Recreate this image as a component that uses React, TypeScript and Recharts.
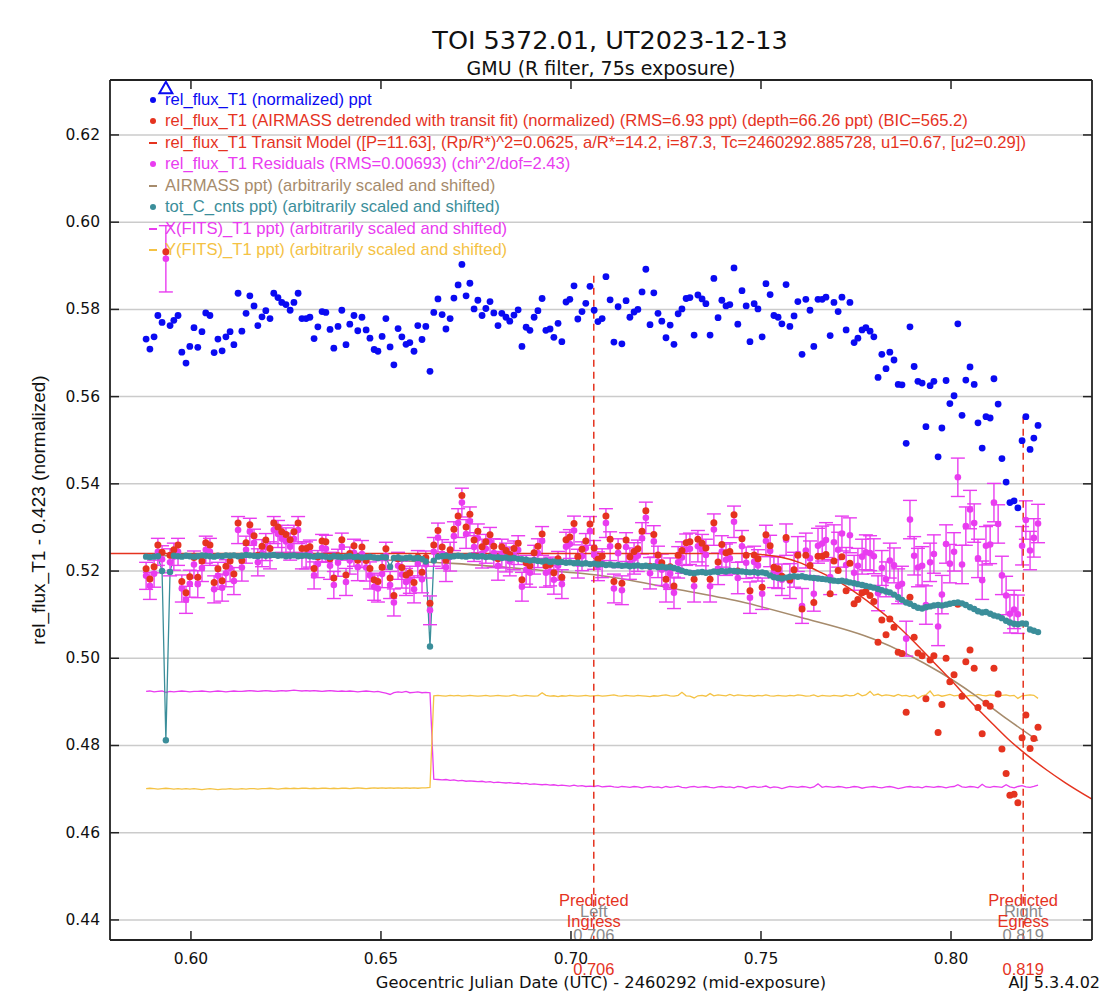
import {
  CartesianGrid,
  ComposedChart,
  ErrorBar,
  Legend,
  Line,
  ReferenceLine,
  Scatter,
  XAxis,
  YAxis,
} from "recharts";

// mid-exposure times, JD - 2460292
const T = [
  0.5882, 0.5892, 0.5903, 0.5913, 0.5924, 0.5934, 0.5945, 0.5955, 0.5966, 0.5976,
  0.5987, 0.5997, 0.6008, 0.6018, 0.6029, 0.6039, 0.605, 0.6061, 0.6071, 0.6082,
  0.6092, 0.6103, 0.6113, 0.6124, 0.6134, 0.6145, 0.6155, 0.6166, 0.6176, 0.6187,
  0.6197, 0.6208, 0.6218, 0.6229, 0.6239, 0.625, 0.6261, 0.6271, 0.6282, 0.6292,
  0.6303, 0.6313, 0.6324, 0.6334, 0.6345, 0.6355, 0.6366, 0.6376, 0.6387, 0.6397,
  0.6408, 0.6418, 0.6429, 0.6439, 0.645, 0.6461, 0.6471, 0.6482, 0.6492, 0.6503,
  0.6513, 0.6524, 0.6534, 0.6545, 0.6555, 0.6566, 0.6576, 0.6587, 0.6597, 0.6608,
  0.6618, 0.6629, 0.6639, 0.665, 0.6661, 0.6671, 0.6682, 0.6692, 0.6703, 0.6713,
  0.6724, 0.6734, 0.6745, 0.6755, 0.6766, 0.6776, 0.6787, 0.6797, 0.6808, 0.6818,
  0.6829, 0.6839, 0.685, 0.6861, 0.6871, 0.6882, 0.6892, 0.6903, 0.6913, 0.6924,
  0.6934, 0.6945, 0.6955, 0.6966, 0.6976, 0.6987, 0.6997, 0.7008, 0.7018, 0.7029,
  0.7039, 0.705, 0.7061, 0.7071, 0.7082, 0.7092, 0.7103, 0.7113, 0.7124, 0.7134,
  0.7145, 0.7155, 0.7166, 0.7176, 0.7187, 0.7197, 0.7208, 0.7218, 0.7229, 0.7239,
  0.725, 0.7261, 0.7271, 0.7282, 0.7292, 0.7303, 0.7313, 0.7324, 0.7334, 0.7345,
  0.7355, 0.7366, 0.7376, 0.7387, 0.7397, 0.7408, 0.7418, 0.7429, 0.7439, 0.745,
  0.7461, 0.7471, 0.7482, 0.7492, 0.7503, 0.7513, 0.7524, 0.7534, 0.7545, 0.7555,
  0.7566, 0.7576, 0.7587, 0.7597, 0.7608, 0.7618, 0.7629, 0.7639, 0.765, 0.7661,
  0.7671, 0.7682, 0.7692, 0.7703, 0.7713, 0.7724, 0.7734, 0.7745, 0.7755, 0.7766,
  0.7776, 0.7787, 0.7797, 0.7808, 0.7818, 0.7829, 0.7839, 0.785, 0.7861, 0.7871,
  0.7882, 0.7892, 0.7903, 0.7913, 0.7924, 0.7934, 0.7945, 0.7955, 0.7966, 0.7976,
  0.7987, 0.7997, 0.8008, 0.8018, 0.8029, 0.8039, 0.805, 0.8061, 0.8071, 0.8082,
  0.8092, 0.8103, 0.8113, 0.8124, 0.8134, 0.8145, 0.8155, 0.8166, 0.8176, 0.8187,
  0.8197, 0.8208, 0.8218, 0.8229,
];

// rel_flux_T1 (normalized), null = off the top of the plot
const BLUE = [
  0.5732, 0.5709, 0.5737, 0.5786, 0.577, null, 0.5763, 0.5775, 0.5786, 0.5702,
  0.5677, 0.5715, 0.5758, 0.5713, 0.5749, 0.5792, 0.5786, 0.5701, 0.5732, 0.5705,
  0.5737, 0.5749, 0.5719, 0.5837, 0.575, 0.5791, 0.5831, 0.5808, 0.5763, 0.5783,
  0.5797, 0.5779, 0.5837, 0.5827, 0.5816, 0.5811, 0.5798, 0.5816, 0.5837, 0.5779,
  0.5779, 0.5782, 0.5733, 0.576, 0.5795, 0.5793, 0.5754, 0.5711, 0.5761, 0.5798,
  0.5719, 0.5766, 0.5786, 0.5751, 0.5782, 0.5753, 0.5734, 0.5708, 0.5704, 0.5738,
  0.5779, 0.5714, 0.5673, 0.5756, 0.5737, 0.572, 0.5724, 0.5704, 0.5763, 0.5731,
  0.5761, 0.5658, 0.5793, 0.5824, 0.5788, 0.5755, 0.5779, 0.5826, 0.5856, 0.5903,
  0.5831, 0.586, 0.5801, 0.5821, 0.5786, 0.5802, 0.5818, 0.5792, 0.5763, 0.5791,
  0.5782, 0.5773, 0.5787, 0.5799, 0.5715, 0.5759, 0.5752, 0.5782, 0.5797, 0.5825,
  0.5752, 0.5755, 0.5736, 0.5768, 0.5726, 0.5817, 0.5823, 0.5854, 0.5778, 0.5795,
  0.5814, 0.5853, 0.5798, 0.5772, 0.5779, 0.5875, 0.5822, 0.5725, 0.5806, 0.5721,
  0.582, 0.5782, 0.5794, 0.58, 0.584, 0.5892, 0.5765, 0.5838, 0.5791, 0.5773,
  0.5735, 0.5764, 0.572, 0.579, 0.5801, 0.5825, 0.5827, 0.5741, 0.5833, 0.5824,
  0.5813, 0.5741, 0.5871, 0.5781, 0.5821, 0.5808, 0.5811, 0.5895, 0.5766, 0.5843,
  0.5808, 0.5726, 0.5813, 0.5801, 0.5737, 0.5859, 0.5834, 0.5786, 0.5782, 0.5767,
  0.5857, 0.5761, 0.5785, 0.5818, 0.5697, 0.5823, 0.5798, 0.5715, 0.5823, 0.5823,
  0.5828, 0.574, 0.5816, 0.5795, 0.5828, 0.5753, 0.5816, 0.5724, 0.5734, 0.5753,
  0.5758, 0.575, 0.5737, 0.5644, 0.5697, 0.5664, 0.5702, 0.5684, 0.5628, 0.5627,
  0.5493, 0.576, 0.5669, 0.5635, 0.5631, 0.5531, 0.5625, 0.5635, 0.5462, 0.5528,
  0.5637, 0.5584, 0.5602, 0.5767, 0.5557, 0.5638, 0.5668, 0.5628, 0.554, 0.5482,
  0.5554, 0.5551, 0.5641, 0.5583, 0.5458, 0.5404, 0.5357, 0.5361, 0.5345, 0.5499,
  0.5554, 0.5479, 0.5505, 0.5534,
];

// rel_flux_T1 AIRMASS detrended
const RED = [
  0.5205, 0.5182, 0.521, 0.526, 0.5243, 0.5932, 0.5236, 0.5249, 0.526, 0.5176,
  0.515, 0.5187, 0.5231, 0.5186, 0.5223, 0.5265, 0.526, 0.5174, 0.5205, 0.5178,
  0.5211, 0.5223, 0.5193, 0.531, 0.5224, 0.5265, 0.5306, 0.5281, 0.5236, 0.5257,
  0.5271, 0.5252, 0.531, 0.5301, 0.529, 0.5284, 0.5272, 0.529, 0.531, 0.5252,
  0.5252, 0.5256, 0.5206, 0.5232, 0.5269, 0.5267, 0.5228, 0.5184, 0.5235, 0.5272,
  0.5191, 0.524, 0.5258, 0.5225, 0.5255, 0.5224, 0.5206, 0.518, 0.5176, 0.5209,
  0.5251, 0.5184, 0.5144, 0.5228, 0.5208, 0.5191, 0.5196, 0.5174, 0.5232, 0.5197,
  0.5231, 0.5126, 0.526, 0.5293, 0.5255, 0.5225, 0.5249, 0.5296, 0.5326, 0.5373,
  0.5301, 0.533, 0.5271, 0.5291, 0.5256, 0.5267, 0.5283, 0.5257, 0.5228, 0.5256,
  0.5247, 0.5238, 0.5252, 0.5264, 0.518, 0.5219, 0.5212, 0.5242, 0.5257, 0.5285,
  0.5212, 0.5215, 0.5196, 0.5228, 0.5186, 0.5272, 0.5278, 0.5309, 0.5233, 0.525,
  0.5269, 0.5308, 0.5253, 0.5227, 0.5234, 0.5326, 0.5273, 0.5176, 0.5257, 0.5172,
  0.5271, 0.5233, 0.5245, 0.5251, 0.5291, 0.5338, 0.5211, 0.5284, 0.5237, 0.5219,
  0.5181, 0.521, 0.5166, 0.5236, 0.5247, 0.5265, 0.5267, 0.5181, 0.5273, 0.5264,
  0.5253, 0.5181, 0.5311, 0.5221, 0.5261, 0.5242, 0.5245, 0.5329, 0.52, 0.5274,
  0.5236, 0.5155, 0.5237, 0.5228, 0.5163, 0.5283, 0.5258, 0.5209, 0.5205, 0.5188,
  0.5277, 0.518, 0.5203, 0.5236, 0.5113, 0.5236, 0.5213, 0.5128, 0.5234, 0.5234,
  0.5238, 0.5148, 0.5223, 0.5201, 0.5233, 0.5155, 0.5218, 0.5125, 0.5135, 0.515,
  0.5153, 0.5144, 0.513, 0.5037, 0.5088, 0.5054, 0.509, 0.5071, 0.5014, 0.5011,
  0.4876, 0.514, 0.5048, 0.5012, 0.5006, 0.4907, 0.4996, 0.5006, 0.483, 0.4894,
  0.5, 0.4946, 0.4962, 0.5124, 0.4913, 0.4992, 0.5019, 0.4977, 0.4887, 0.4827,
  0.4897, 0.489, 0.4977, 0.4918, 0.4792, 0.4736, 0.4686, 0.4688, 0.4669, 0.4818,
  0.487, 0.4793, 0.4816, 0.4842,
];

// residuals (shifted) and their error bars
const RESID = [
  0.5189, 0.5166, 0.5194, 0.5244, 0.5227, 0.5916, 0.522, 0.5233, 0.5244, 0.516,
  0.5134, 0.5171, 0.5215, 0.517, 0.5207, 0.5249, 0.5244, 0.5158, 0.5189, 0.5162,
  0.5195, 0.5207, 0.5177, 0.5294, 0.5208, 0.5249, 0.529, 0.5265, 0.522, 0.5241,
  0.5255, 0.5236, 0.5294, 0.5285, 0.5274, 0.5268, 0.5256, 0.5274, 0.5294, 0.5236,
  0.5236, 0.524, 0.519, 0.5216, 0.5253, 0.5251, 0.5212, 0.5168, 0.5219, 0.5256,
  0.5175, 0.5224, 0.5242, 0.5209, 0.5239, 0.5208, 0.519, 0.5164, 0.516, 0.5193,
  0.5235, 0.5168, 0.5128, 0.5212, 0.5192, 0.5175, 0.518, 0.5158, 0.5216, 0.5181,
  0.5215, 0.511, 0.5244, 0.5277, 0.5239, 0.5209, 0.5233, 0.528, 0.531, 0.5357,
  0.5285, 0.5314, 0.5255, 0.5275, 0.524, 0.5251, 0.5267, 0.5241, 0.5212, 0.524,
  0.5231, 0.5222, 0.5236, 0.5248, 0.5164, 0.5203, 0.5196, 0.5226, 0.5241, 0.5269,
  0.5196, 0.5199, 0.518, 0.5212, 0.517, 0.5256, 0.5262, 0.5293, 0.5217, 0.5234,
  0.5253, 0.5292, 0.5237, 0.5211, 0.5218, 0.531, 0.5257, 0.516, 0.5241, 0.5156,
  0.5255, 0.5217, 0.5229, 0.5235, 0.5275, 0.5322, 0.5195, 0.5268, 0.5221, 0.5203,
  0.5165, 0.5194, 0.515, 0.522, 0.5231, 0.5249, 0.5251, 0.5165, 0.5257, 0.5248,
  0.5237, 0.5165, 0.5295, 0.5205, 0.5245, 0.5226, 0.5229, 0.5313, 0.5184, 0.5257,
  0.5219, 0.5139, 0.5221, 0.5213, 0.5148, 0.5269, 0.5246, 0.5198, 0.5196, 0.518,
  0.5272, 0.5177, 0.5203, 0.5239, 0.512, 0.5247, 0.5229, 0.5148, 0.5258, 0.5263,
  0.5271, 0.5186, 0.5266, 0.5249, 0.5286, 0.5214, 0.5282, 0.5196, 0.5212, 0.5233,
  0.5243, 0.5241, 0.5234, 0.5149, 0.5207, 0.5181, 0.5224, 0.5213, 0.5165, 0.5171,
  0.5045, 0.5318, 0.5235, 0.5208, 0.5212, 0.5122, 0.522, 0.5239, 0.5073, 0.5146,
  0.5262, 0.5217, 0.5244, 0.5415, 0.5215, 0.5303, 0.5341, 0.531, 0.5229, 0.5179,
  0.5258, 0.5261, 0.5357, 0.5308, 0.519, 0.5144, 0.5102, 0.5112, 0.5101, 0.5258,
  0.5317, 0.5247, 0.5276, 0.5309,
];

const RESID_ERR = [
  0.0031, 0.0031, 0.0031, 0.0031, 0.0031, 0.0076, 0.0031, 0.0031, 0.0031, 0.0031,
  0.0031, 0.0031, 0.0031, 0.0031, 0.0031, 0.0031, 0.0031, 0.0031, 0.0031, 0.0031,
  0.0031, 0.0031, 0.0031, 0.0031, 0.0031, 0.0031, 0.0031, 0.0031, 0.0031, 0.0031,
  0.0031, 0.0031, 0.0031, 0.0031, 0.0031, 0.0031, 0.0031, 0.0031, 0.0031, 0.0031,
  0.0031, 0.0031, 0.0031, 0.0031, 0.0031, 0.0031, 0.0031, 0.0031, 0.0031, 0.0031,
  0.0031, 0.0031, 0.0031, 0.0031, 0.0031, 0.0031, 0.0031, 0.0031, 0.0031, 0.0031,
  0.0031, 0.0031, 0.0031, 0.0031, 0.0031, 0.0031, 0.0031, 0.0031, 0.0031, 0.0031,
  0.0031, 0.0033, 0.0033, 0.0033, 0.0033, 0.0033, 0.0033, 0.0033, 0.0033, 0.0033,
  0.0033, 0.0033, 0.0033, 0.0033, 0.0033, 0.0033, 0.0033, 0.0033, 0.0033, 0.0033,
  0.0033, 0.0033, 0.0033, 0.0033, 0.0033, 0.0033, 0.0033, 0.0033, 0.0033, 0.0033,
  0.0033, 0.0033, 0.0033, 0.0033, 0.0033, 0.0033, 0.0033, 0.0033, 0.0033, 0.0033,
  0.0033, 0.0033, 0.0033, 0.0033, 0.0033, 0.0033, 0.0033, 0.0033, 0.0033, 0.0033,
  0.0033, 0.0036, 0.0036, 0.0036, 0.0036, 0.0036, 0.0036, 0.0036, 0.0036, 0.0036,
  0.0036, 0.0036, 0.0036, 0.0036, 0.0036, 0.0036, 0.0036, 0.0036, 0.0036, 0.0036,
  0.0036, 0.0036, 0.0036, 0.0036, 0.0036, 0.0036, 0.0036, 0.0036, 0.0036, 0.0036,
  0.0036, 0.0036, 0.0036, 0.0036, 0.0036, 0.0036, 0.0036, 0.0036, 0.0036, 0.0036,
  0.0036, 0.004, 0.004, 0.004, 0.004, 0.004, 0.004, 0.004, 0.004, 0.004,
  0.004, 0.004, 0.004, 0.004, 0.004, 0.004, 0.004, 0.004, 0.004, 0.004,
  0.004, 0.004, 0.004, 0.004, 0.004, 0.004, 0.004, 0.004, 0.004, 0.004,
  0.004, 0.0044, 0.0044, 0.0044, 0.0044, 0.0044, 0.0044, 0.0044, 0.0044, 0.0044,
  0.0044, 0.0044, 0.0044, 0.0044, 0.0044, 0.0044, 0.0044, 0.0044, 0.0044, 0.0044,
  0.0044, 0.0044, 0.0044, 0.0044, 0.0044, 0.0044, 0.0044, 0.0044, 0.0044, 0.0044,
  0.0044, 0.0044, 0.0044, 0.0044,
];

// tot_C_cnts (scaled and shifted)
const TOT_C = [
  0.5233, 0.5232, 0.5233, 0.5234, 0.52, 0.4812, 0.5198, 0.5235, 0.5234, 0.5233,
  0.5235, 0.5234, 0.5233, 0.5234, 0.5236, 0.5235, 0.5234, 0.5233, 0.5235, 0.5234,
  0.5236, 0.5235, 0.5236, 0.5234, 0.5235, 0.5237, 0.5236, 0.5235, 0.5234, 0.5236,
  0.5235, 0.5236, 0.5237, 0.5235, 0.5236, 0.5234, 0.5235, 0.5236, 0.5234, 0.5235,
  0.5236, 0.5234, 0.5233, 0.5235, 0.5234, 0.5233, 0.5232, 0.5234, 0.5233, 0.5232,
  0.5233, 0.5234, 0.5232, 0.5233, 0.5231, 0.5232, 0.5233, 0.5231, 0.523, 0.5232,
  0.5231, 0.521, 0.523, 0.5231, 0.5229, 0.523, 0.5231, 0.5229, 0.523, 0.5228,
  0.5222, 0.5027, 0.5224, 0.5233, 0.5234, 0.5235, 0.5233, 0.5234, 0.5235, 0.5234,
  0.5233, 0.5235, 0.5234, 0.5233, 0.5234, 0.5232, 0.5233, 0.5231, 0.5232, 0.523,
  0.5231, 0.5229, 0.523, 0.5228, 0.5227, 0.5226, 0.5224, 0.5225, 0.5223, 0.5222,
  0.5224, 0.5221, 0.5222, 0.522, 0.5221, 0.5219, 0.522, 0.5218, 0.5219, 0.5217,
  0.5218, 0.5216, 0.5217, 0.5215, 0.5216, 0.5214, 0.5215, 0.5213, 0.5214, 0.5212,
  0.5213, 0.5211, 0.5212, 0.5213, 0.5211, 0.5212, 0.521, 0.5211, 0.5209, 0.521,
  0.5208, 0.5209, 0.5207, 0.5204, 0.5201, 0.5198, 0.5196, 0.5195, 0.5197, 0.5198,
  0.5196, 0.5197, 0.5199, 0.5198, 0.52, 0.5199, 0.5201, 0.52, 0.5199, 0.5199,
  0.5198, 0.5197, 0.5198, 0.5196, 0.5197, 0.5195, 0.519, 0.5186, 0.5184, 0.5183,
  0.5185, 0.5187, 0.5188, 0.5187, 0.5188, 0.5186, 0.5185, 0.5184, 0.5183, 0.5182,
  0.5181, 0.5179, 0.5178, 0.5177, 0.5178, 0.5176, 0.5174, 0.5172, 0.517, 0.5168,
  0.5166, 0.5164, 0.5162, 0.5159, 0.5156, 0.5153, 0.5151, 0.5146, 0.514, 0.5134,
  0.5128, 0.5125, 0.512, 0.5116, 0.5114, 0.5117, 0.5119, 0.5121, 0.5122, 0.5121,
  0.5123, 0.5125, 0.5127, 0.5128, 0.5126, 0.5122, 0.5117, 0.5113, 0.5108, 0.5105,
  0.5106, 0.5102, 0.5098, 0.5096, 0.5092, 0.5086, 0.5082, 0.5079, 0.5078, 0.508,
  0.5079, 0.5066, 0.5063, 0.506,
];

// X(FITS)_T1 (scaled and shifted)
const X_FITS = [
  0.4924, 0.4925, 0.4923, 0.4924, 0.4925, 0.4922, 0.4924, 0.4923, 0.4924, 0.4925,
  0.4924, 0.4923, 0.4924, 0.4924, 0.4925, 0.4924, 0.4923, 0.4924, 0.4925, 0.4924,
  0.4923, 0.4924, 0.4925, 0.4924, 0.4924, 0.4925, 0.4926, 0.4925, 0.4924, 0.4925,
  0.4926, 0.4925, 0.4924, 0.4925, 0.4926, 0.4925, 0.4926, 0.4927, 0.4926, 0.4925,
  0.4926, 0.4925, 0.4926, 0.4925, 0.4924, 0.4925, 0.4926, 0.4925, 0.4924, 0.4925,
  0.4924, 0.4925, 0.4924, 0.4923, 0.4924, 0.4925, 0.4924, 0.4923, 0.4924, 0.4922,
  0.492, 0.4917, 0.4921, 0.4923, 0.4922, 0.4924, 0.4921, 0.4922, 0.4923, 0.4921,
  0.4922, 0.4921, 0.4723, 0.4722, 0.4721, 0.4722, 0.472, 0.4721, 0.4719, 0.472,
  0.4718, 0.4719, 0.4718, 0.4717, 0.4718, 0.4716, 0.4717, 0.4715, 0.4716, 0.4715,
  0.4714, 0.4715, 0.4713, 0.4714, 0.4712, 0.4713, 0.4711, 0.4712, 0.4711, 0.471,
  0.4711, 0.4709, 0.471, 0.4708, 0.4709, 0.4708, 0.4707, 0.4709, 0.4707, 0.4708,
  0.4706, 0.4707, 0.4706, 0.4708, 0.4705, 0.4706, 0.4707, 0.4705, 0.4704, 0.4706,
  0.4705, 0.4704, 0.4706, 0.4705, 0.4703, 0.4705, 0.4706, 0.4704, 0.4705, 0.4703,
  0.4706, 0.4704, 0.4705, 0.4707, 0.4704, 0.4703, 0.4705, 0.4706, 0.4704, 0.4705,
  0.4706, 0.4704, 0.4703, 0.4705, 0.4706, 0.4704, 0.4705, 0.4703, 0.4706, 0.4705,
  0.4702, 0.4705, 0.4706, 0.4704, 0.4705, 0.4707, 0.4703, 0.4705, 0.4704, 0.4701,
  0.4704, 0.4706, 0.4705, 0.4704, 0.4706, 0.4705, 0.4703, 0.4705, 0.4712, 0.4704,
  0.4706, 0.4705, 0.4704, 0.4706, 0.4705, 0.4703, 0.4704, 0.4706, 0.4705, 0.4702,
  0.4704, 0.4705, 0.4706, 0.4704, 0.4703, 0.4705, 0.4706, 0.4704, 0.4701, 0.4703,
  0.4705, 0.4706, 0.4704, 0.4705, 0.4703, 0.4706, 0.4705, 0.4704, 0.4706, 0.4705,
  0.4703, 0.4705, 0.4706, 0.471, 0.4705, 0.4704, 0.4706, 0.4705, 0.4703, 0.4711,
  0.4705, 0.4704, 0.4706, 0.4705, 0.4704, 0.471, 0.4705, 0.4703, 0.4706, 0.4708,
  0.4705, 0.4704, 0.4706, 0.4709,
];

// Y(FITS)_T1 (scaled and shifted)
const Y_FITS = [
  0.4701, 0.4702, 0.4701, 0.47, 0.4701, 0.4702, 0.4701, 0.47, 0.4701, 0.47,
  0.4701, 0.47, 0.4701, 0.47, 0.4699, 0.47, 0.4701, 0.47, 0.4699, 0.47,
  0.47, 0.4701, 0.47, 0.47, 0.4701, 0.47, 0.4701, 0.4701, 0.47, 0.4701,
  0.4701, 0.4702, 0.4701, 0.47, 0.4701, 0.4702, 0.4701, 0.4702, 0.4701, 0.4702,
  0.4702, 0.4701, 0.4702, 0.4701, 0.4702, 0.4702, 0.4701, 0.4702, 0.4701, 0.4702,
  0.4702, 0.4701, 0.4702, 0.4703, 0.4702, 0.4701, 0.4702, 0.4703, 0.4702, 0.4703,
  0.4702, 0.4703, 0.4702, 0.4703, 0.4702, 0.4703, 0.4702, 0.4703, 0.4702, 0.4703,
  0.4703, 0.4704, 0.4914, 0.4915, 0.4914, 0.4913, 0.4915, 0.4914, 0.4915, 0.4913,
  0.4914, 0.4915, 0.4914, 0.4913, 0.4914, 0.4915, 0.4913, 0.4914, 0.4915, 0.4914,
  0.4913, 0.4914, 0.4916, 0.4914, 0.4913, 0.4915, 0.4914, 0.4913, 0.4914, 0.4921,
  0.4915, 0.4913, 0.4914, 0.4912, 0.4914, 0.4913, 0.4915, 0.4914, 0.4913, 0.4914,
  0.4915, 0.4913, 0.4914, 0.4915, 0.4913, 0.4914, 0.4915, 0.4916, 0.4914, 0.4913,
  0.4915, 0.4914, 0.4913, 0.4915, 0.4914, 0.4913, 0.4912, 0.4914, 0.4913, 0.4915,
  0.4916, 0.4914, 0.4913, 0.4915, 0.4922, 0.4914, 0.4913, 0.4909, 0.4914, 0.4915,
  0.4913, 0.4919, 0.4914, 0.4916, 0.4915, 0.4914, 0.4917, 0.4914, 0.4916, 0.4915,
  0.4914, 0.4915, 0.4913, 0.4915, 0.4914, 0.4916, 0.4914, 0.4913, 0.4915, 0.4914,
  0.4913, 0.4915, 0.4914, 0.4916, 0.4915, 0.4913, 0.4914, 0.4916, 0.4912, 0.4915,
  0.4914, 0.4913, 0.4915, 0.4914, 0.4913, 0.4916, 0.4914, 0.4915, 0.492, 0.4914,
  0.4916, 0.4924, 0.4915, 0.4918, 0.4914, 0.4916, 0.4915, 0.4913, 0.4917, 0.4914,
  0.4915, 0.4912, 0.4915, 0.4908, 0.4914, 0.4916, 0.4925, 0.4914, 0.4916, 0.4913,
  0.4915, 0.4917, 0.4914, 0.4915, 0.4916, 0.4913, 0.4915, 0.4914, 0.4917, 0.4915,
  0.4914, 0.4916, 0.4915, 0.4913, 0.4915, 0.4916, 0.4914, 0.4915, 0.4908, 0.4914,
  0.4915, 0.4916, 0.4915, 0.4908,
];

// transit model curve
const MODEL_T = [0.5787, 0.62, 0.66, 0.7, 0.74, 0.745, 0.75, 0.755, 0.76, 0.765, 0.77, 0.775, 0.78, 0.785, 0.79, 0.795, 0.8, 0.805, 0.81, 0.815, 0.82, 0.825, 0.83, 0.8371];
const MODEL_V = [0.524, 0.524, 0.524, 0.524, 0.524, 0.524, 0.5238, 0.5232, 0.522, 0.52, 0.5178, 0.515, 0.5118, 0.5082, 0.504, 0.4995, 0.495, 0.4902, 0.4858, 0.4815, 0.4778, 0.4745, 0.4715, 0.4677];

// AIRMASS trend (scaled and shifted)
const AIRMASS_T = [0.5882, 0.62, 0.65, 0.67, 0.6918, 0.7068, 0.7268, 0.7445, 0.7603, 0.7796, 0.7883, 0.7971, 0.8059, 0.8147, 0.8229];
const AIRMASS_V = [0.5236, 0.5233, 0.5226, 0.5217, 0.5202, 0.5191, 0.516, 0.513, 0.5094, 0.5044, 0.501, 0.4968, 0.4918, 0.4861, 0.4811];

// off-scale point marker for the first series
const OFFSCALE = [{ t: 0.5934, v: 0.6308 }];

const PREDICTED = [
  { t: 0.706, top: 0.5877, side: "Left", event: "Ingress" },
  { t: 0.819, top: 0.5554, side: "Right", event: "Egress" },
];

const X_TICKS = [0.6, 0.65, 0.7, 0.75, 0.8];
const Y_TICKS = [0.44, 0.46, 0.48, 0.5, 0.52, 0.54, 0.56, 0.58, 0.6, 0.62];
const X_DOMAIN = [0.5787, 0.8371];
const Y_DOMAIN = [0.4354, 0.6326];

const BLUE_C = "#0a0af2";
const RED_C = "#e5331f";
const MAG_C = "#e93cf0";
const BROWN_C = "#a68b6c";
const TEAL_C = "#3b8e9a";
const YEL_C = "#f4c244";
const GRAY_C = "#8a8a8a";
const AXIS_C = "#222";

const LEGEND = [
  { label: "rel_flux_T1 (normalized) ppt", color: BLUE_C, mark: "dot" },
  { label: "rel_flux_T1 (AIRMASS detrended with transit fit) (normalized) (RMS=6.93 ppt) (depth=66.26 ppt) (BIC=565.2)", color: RED_C, mark: "dot" },
  { label: "rel_flux_T1 Transit Model ([P=11.63], (Rp/R*)^2=0.0625, a/R*=14.2, i=87.3, Tc=2460292.885728, u1=0.67, [u2=0.29])", color: RED_C, mark: "dash" },
  { label: "rel_flux_T1 Residuals (RMS=0.00693) (chi^2/dof=2.43)", color: MAG_C, mark: "dot" },
  { label: "AIRMASS ppt) (arbitrarily scaled and shifted)", color: BROWN_C, mark: "dash" },
  { label: "tot_C_cnts ppt) (arbitrarily scaled and shifted)", color: TEAL_C, mark: "dot" },
  { label: "X(FITS)_T1 ppt) (arbitrarily scaled and shifted)", color: MAG_C, mark: "dash" },
  { label: "Y(FITS)_T1 ppt) (arbitrarily scaled and shifted)", color: YEL_C, mark: "dash" },
];

const rows = T.map((t, i) => ({
  t,
  blue: BLUE[i],
  red: RED[i],
  resid: RESID[i],
  err: RESID_ERR[i],
  totc: TOT_C[i],
  xf: X_FITS[i],
  yf: Y_FITS[i],
}));
const blueRows = rows.filter((r) => r.blue !== null);
const modelRows = MODEL_T.map((t, i) => ({ t, v: MODEL_V[i] }));
const airmassRows = AIRMASS_T.map((t, i) => ({ t, v: AIRMASS_V[i] }));

const TICK_FONT = "'DejaVu Sans', Verdana, sans-serif";
const LABEL_FONT = "'Liberation Sans', Arial, Helvetica, sans-serif";

const dotShape = (color: string, r: number) => (p: any) =>
  <circle cx={p.cx} cy={p.cy} r={r} fill={color} />;

function Triangle(p: any) {
  const { cx, cy } = p;
  return (
    <path
      d={`M${cx},${cy - 6} L${cx + 6.5},${cy + 5.5} L${cx - 6.5},${cy + 5.5} Z`}
      fill="none"
      stroke={BLUE_C}
      strokeWidth={2}
    />
  );
}

// inward ticks on all four sides, labels only left/bottom
function LeftTick({ x, y, payload }: any) {
  return (
    <g>
      <line x1={x + 10} y1={y} x2={x + 19} y2={y} stroke={AXIS_C} strokeWidth={1.5} />
      <text x={x} y={y} textAnchor="end" dominantBaseline="central" fontFamily={TICK_FONT} fontSize={15.5} fill="#111">
        {Number(payload.value).toFixed(2)}
      </text>
    </g>
  );
}
function RightTick({ x, y }: any) {
  return <line x1={x} y1={y} x2={x - 9} y2={y} stroke={AXIS_C} strokeWidth={1.5} />;
}
function BottomTick({ x, y, payload }: any) {
  return (
    <g>
      <line x1={x} y1={y} x2={x} y2={y - 9} stroke={AXIS_C} strokeWidth={1.5} />
      <text x={x} y={y + 24} textAnchor="middle" fontFamily={TICK_FONT} fontSize={15.5} fill="#111">
        {Number(payload.value).toFixed(2)}
      </text>
    </g>
  );
}
function TopTick({ x, y }: any) {
  return <line x1={x} y1={y} x2={x} y2={y + 9} stroke={AXIS_C} strokeWidth={1.5} />;
}

function PredictedLabel({ viewBox, side, event, value }: any) {
  const x = viewBox?.x ?? 0;
  const bottom = viewBox && viewBox.height ? viewBox.y + viewBox.height : 940;
  return (
    <g fontFamily={LABEL_FONT} fontSize={16.5} textAnchor="middle">
      <text x={x} y={bottom - 34} fill={RED_C}>Predicted</text>
      <text x={x} y={bottom - 23} fill={GRAY_C}>{side}</text>
      <text x={x} y={bottom - 13} fill={RED_C}>{event}</text>
      <text x={x} y={bottom + 1} fill={GRAY_C}>{value}</text>
      <text x={x} y={bottom + 35} fill={RED_C}>{value}</text>
    </g>
  );
}

function LegendBox() {
  return (
    <div style={{ fontFamily: LABEL_FONT, fontSize: 16.6 }}>
      {LEGEND.map((r) => (
        <div
          key={r.label}
          style={{ display: "flex", alignItems: "center", height: 21.5, whiteSpace: "nowrap", color: r.color }}
        >
          <span style={{ width: 12, display: "inline-flex", justifyContent: "center", marginRight: 6 }}>
            {r.mark === "dot" ? (
              <span style={{ width: 6, height: 6, borderRadius: 3, background: r.color }} />
            ) : (
              <span style={{ width: 8, height: 1.6, background: r.color }} />
            )}
          </span>
          {r.label}
        </div>
      ))}
    </div>
  );
}

export default function App() {
  return (
    <div style={{ position: "absolute", left: 0, top: 0, width: 1108, height: 999, background: "#fff" }}>
      <ComposedChart
        width={1108}
        height={999}
        data={rows}
        margin={{ top: 70, right: 6, bottom: 19, left: 50 }}
      >
        <CartesianGrid vertical={false} stroke="#cbcbcb" strokeWidth={1.5} />
        <XAxis
          dataKey="t"
          type="number"
          domain={X_DOMAIN}
          allowDataOverflow
          ticks={X_TICKS}
          interval={0}
          height={40}
          tickSize={0}
          tickMargin={0}
          tickLine={false}
          axisLine={{ stroke: AXIS_C, strokeWidth: 1.8 }}
          tick={<BottomTick />}
        />
        <XAxis
          xAxisId="top"
          orientation="top"
          dataKey="t"
          type="number"
          domain={X_DOMAIN}
          allowDataOverflow
          ticks={X_TICKS}
          interval={0}
          height={10}
          tickSize={0}
          tickMargin={0}
          tickLine={false}
          axisLine={{ stroke: AXIS_C, strokeWidth: 1.8 }}
          tick={<TopTick />}
        />
        <YAxis
          type="number"
          domain={Y_DOMAIN}
          allowDataOverflow
          ticks={Y_TICKS}
          interval={0}
          width={60}
          tickSize={0}
          tickMargin={10}
          tickLine={false}
          axisLine={{ stroke: AXIS_C, strokeWidth: 1.8 }}
          tick={<LeftTick />}
        />
        <YAxis
          yAxisId="right"
          orientation="right"
          type="number"
          domain={Y_DOMAIN}
          allowDataOverflow
          ticks={Y_TICKS}
          interval={0}
          width={10}
          tickSize={0}
          tickMargin={0}
          tickLine={false}
          axisLine={{ stroke: AXIS_C, strokeWidth: 1.8 }}
          tick={<RightTick />}
        />

        <Line dataKey="xf" type="linear" stroke={MAG_C} strokeWidth={1.3} dot={false} activeDot={false} isAnimationActive={false} />
        <Line dataKey="yf" type="linear" stroke={YEL_C} strokeWidth={1.3} dot={false} activeDot={false} isAnimationActive={false} />
        <Line data={airmassRows} dataKey="v" type="monotone" stroke={BROWN_C} strokeWidth={1.6} dot={false} activeDot={false} isAnimationActive={false} />
        <Line
          dataKey="totc"
          type="linear"
          stroke={TEAL_C}
          strokeWidth={1.3}
          dot={{ r: 3.2, fill: TEAL_C, stroke: "none" }}
          activeDot={false}
          isAnimationActive={false}
        />
        <Scatter dataKey="resid" shape={dotShape(MAG_C, 3.3)} isAnimationActive={false}>
          <ErrorBar dataKey="err" direction="y" width={7} stroke={MAG_C} strokeWidth={1.4} isAnimationActive={false} />
        </Scatter>
        <Scatter dataKey="red" shape={dotShape(RED_C, 3.5)} isAnimationActive={false} />
        <Line data={modelRows} dataKey="v" type="monotone" stroke={RED_C} strokeWidth={1.5} dot={false} activeDot={false} isAnimationActive={false} />
        <Scatter data={blueRows} dataKey="blue" shape={dotShape(BLUE_C, 3.4)} isAnimationActive={false} />
        <Scatter data={OFFSCALE} dataKey="v" shape={<Triangle />} isAnimationActive={false} />

        {PREDICTED.map((p) => (
          <ReferenceLine
            key={p.t}
            segment={[{ x: p.t, y: p.top }, { x: p.t, y: Y_DOMAIN[0] }]}
            stroke={RED_C}
            strokeWidth={1.5}
            strokeDasharray="7 5"
            label={<PredictedLabel side={p.side} event={p.event} value={p.t.toFixed(3)} />}
          />
        ))}

        <Legend
          layout="horizontal"
          verticalAlign="middle"
          align="center"
          content={() => <LegendBox />}
          wrapperStyle={{ position: "absolute", top: 89, left: 147, width: 950, height: 175 }}
        />
      </ComposedChart>

      <svg width={1108} height={999} style={{ position: "absolute", left: 0, top: 0, pointerEvents: "none" }}>
        <text x={610} y={49} textAnchor="middle" fontFamily={TICK_FONT} fontSize={25.5} fill="#111">
          TOI 5372.01, UT2023-12-13
        </text>
        <text x={601} y={75} textAnchor="middle" fontFamily={TICK_FONT} fontSize={19} fill="#111">
          GMU (R filter, 75s exposure)
        </text>
        <text x={601} y={988} textAnchor="middle" fontFamily={TICK_FONT} fontSize={16.3} fill="#111">
          Geocentric Julian Date (UTC) - 2460292 (mid-exposure)
        </text>
        <text x={1100} y={988} textAnchor="end" fontFamily={TICK_FONT} fontSize={16} fill="#111">
          AIJ 5.3.4.02
        </text>
        <text
          transform="translate(45,510) rotate(-90)"
          textAnchor="middle"
          fontFamily={LABEL_FONT}
          fontSize={19}
          fill="#111"
        >
          rel_flux_T1 - 0.423 (normalized)
        </text>
      </svg>
    </div>
  );
}
